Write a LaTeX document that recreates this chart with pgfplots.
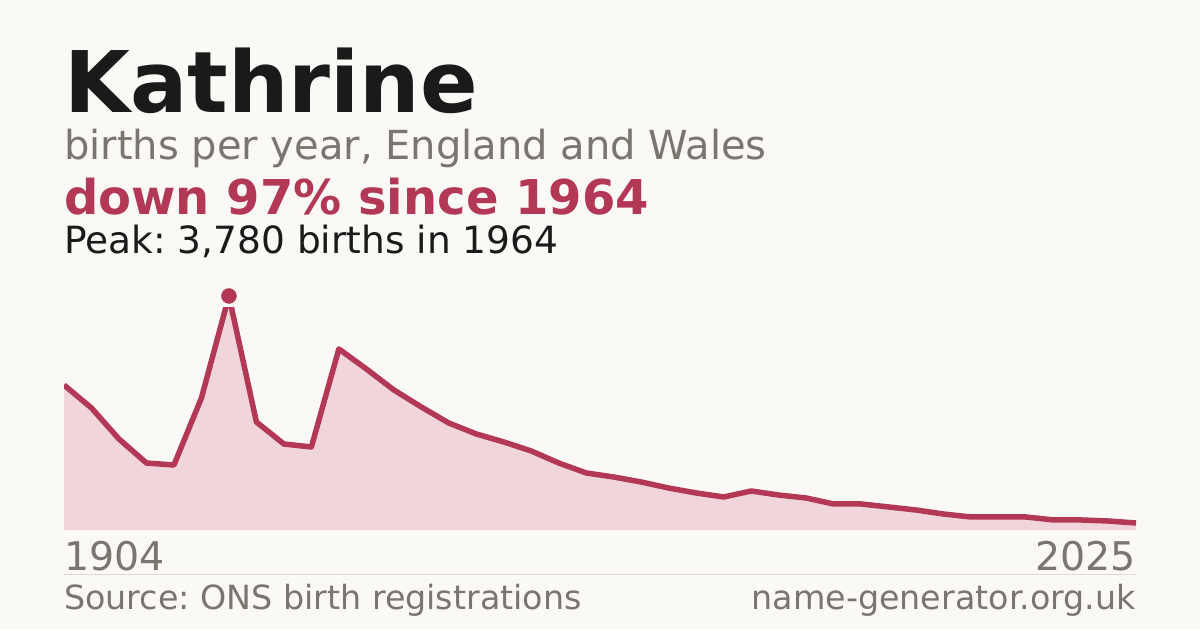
\documentclass[border=0pt]{standalone}
\usepackage{fontspec}
\setmainfont{DejaVu Sans}
\usepackage{pgfplots}
\pgfplotsset{compat=1.18}
\definecolor{bg}{HTML}{FAF9F5}
\definecolor{ink}{HTML}{1A1A1A}
\definecolor{muted}{HTML}{7A756E}
\definecolor{accent}{HTML}{B23856}
\definecolor{areafill}{HTML}{F0D5DB}
\definecolor{rule}{HTML}{DDD9D3}

\pgfplotsset{panel/.style={
  at={(64pt,100pt)}, anchor=south west,
  scale only axis, width=1072pt, height=223pt,
  xmin=0, xmax=39, ymin=0, ymax=3602,
  axis lines=none, ticks=none,
}}

\begin{document}
\frenchspacing
\begin{tikzpicture}
\fill[bg] (0pt,0pt) rectangle (1200pt,630pt);

% headings
\node[anchor=base west,inner sep=0,text=ink] at (64pt,517pt)
  {\fontsize{85}{90}\selectfont\bfseries Kathrine};
\node[anchor=base west,inner sep=0,text=muted] at (64pt,470pt)
  {\fontsize{40}{44}\selectfont births per year, England and Wales};
\node[anchor=base west,inner sep=0,text=accent] at (64pt,415pt)
  {\fontsize{48}{52}\selectfont\bfseries down 97\% since 1964};
\node[anchor=base west,inner sep=0,text=ink] at (64pt,376pt)
  {\fontsize{37.5}{40}\selectfont Peak: 3,780 births in 1964};

\begin{axis}[panel]
\addplot[fill=areafill, draw=none] coordinates {
  (0,2342) (1,1971) (2,1470) (3,1082) (4,1050) (5,2132) (6,3780) (7,1745)
  (8,1389) (9,1341) (10,2924) (11,2601) (12,2262) (13,1987) (14,1728)
  (15,1551) (16,1422) (17,1276) (18,1082) (19,921) (20,856) (21,775)
  (22,678) (23,598) (24,533) (25,630) (26,565) (27,517) (28,420) (29,420)
  (30,372) (31,323) (32,258) (33,210) (34,210) (35,210) (36,162) (37,162)
  (38,145) (39,113)
} \closedcycle;
\addplot[accent, line width=5.5pt, line join=round, mark=none] coordinates {
  (0,2342) (1,1971) (2,1470) (3,1082) (4,1050) (5,2132) (6,3780) (7,1745)
  (8,1389) (9,1341) (10,2924) (11,2601) (12,2262) (13,1987) (14,1728)
  (15,1551) (16,1422) (17,1276) (18,1082) (19,921) (20,856) (21,775)
  (22,678) (23,598) (24,533) (25,630) (26,565) (27,517) (28,420) (29,420)
  (30,372) (31,323) (32,258) (33,210) (34,210) (35,210) (36,162) (37,162)
  (38,145) (39,113)
};
\end{axis}
% peak marker, unclipped
\begin{axis}[panel, clip=false]
\addplot[only marks, mark=*, mark size=7.5pt, color=accent] coordinates {(6,3780)};
\end{axis}

% axis ends and footer
\node[anchor=base west,inner sep=0,text=muted] at (64pt,60pt)
  {\fontsize{39.5}{42}\selectfont 1904};
\node[anchor=base east,inner sep=0,text=muted] at (1136pt,60pt)
  {\fontsize{39.5}{42}\selectfont 2025};
\draw[rule, line width=1pt] (64pt,56pt) -- (1136pt,56pt);
\node[anchor=base west,inner sep=0,text=muted] at (64pt,21pt)
  {\fontsize{33.3}{36}\selectfont Source: ONS birth registrations};
\node[anchor=base east,inner sep=0,text=muted] at (1136pt,21pt)
  {\fontsize{33.3}{36}\selectfont name-generator.org.uk};
\end{tikzpicture}
\end{document}
